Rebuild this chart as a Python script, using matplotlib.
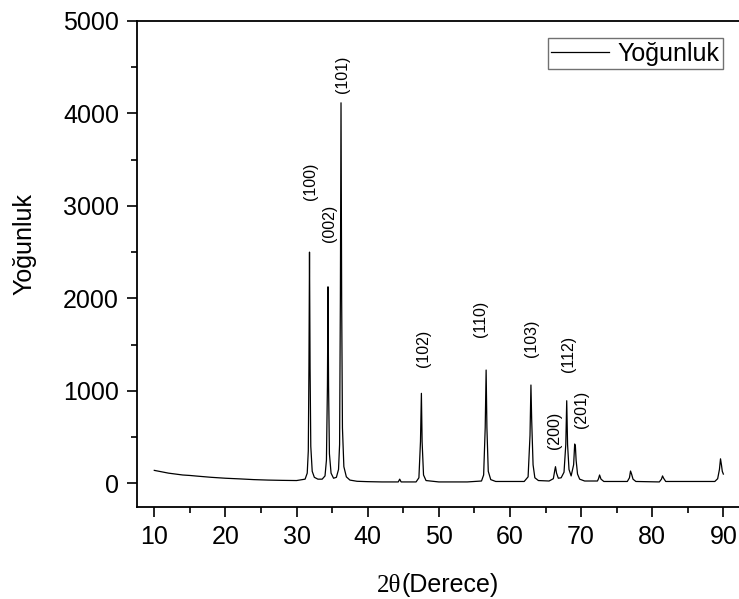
import matplotlib
matplotlib.use("Agg")
from matplotlib import pyplot as plt
from matplotlib.ticker import MultipleLocator
from matplotlib.offsetbox import TextArea, HPacker, AnnotationBbox

plt.rcParams['font.family'] = ['Liberation Sans', 'DejaVu Sans']

# XRD pattern (2theta, intensity)
two_theta = [10, 11, 12, 13, 14, 15, 16, 18, 20, 22, 24, 26, 28, 30,
             31.2, 31.5, 31.65, 31.74, 31.82, 31.9, 32.0, 32.2, 32.5, 33.0, 33.6, 34.0,
             34.2, 34.34, 34.42, 34.5, 34.62, 34.85, 35.2, 35.6, 35.9,
             36.05, 36.16, 36.25, 36.34, 36.45, 36.65, 37.0, 37.5, 38.5, 40, 42,
             44.3, 44.5, 44.7, 46.8,
             47.2, 47.42, 47.55, 47.65, 47.85, 48.2, 50, 54, 56.0,
             56.3, 56.52, 56.65, 56.76, 56.95, 57.3, 58, 62,
             62.55, 62.82, 62.95, 63.05, 63.12, 63.25, 63.5, 64, 65.5, 66.1,
             66.3, 66.4, 66.55, 66.8, 67.2, 67.6,
             67.85, 67.98, 68.1, 68.3, 68.6,
             68.95, 69.1, 69.2, 69.3, 69.5, 69.8, 70.5, 72.3,
             72.45, 72.6, 72.8, 73.2, 76.5,
             76.8, 76.95, 77.1, 77.3, 77.7, 81.0,
             81.3, 81.45, 81.6, 81.9, 88.8,
             89.2, 89.45, 89.6, 89.75, 89.85, 90.0]
intensity = [140, 125, 110, 100, 90, 85, 78, 65, 55, 48, 40, 35, 32, 30,
             45, 110, 350, 1250, 2500, 1250, 400, 130, 65, 45, 45, 80,
             250, 1050, 2125, 1050, 320, 110, 55, 65, 150,
             420, 2000, 4115, 2000, 600, 180, 70, 35, 22, 18, 15,
             15, 45, 15, 15,
             60, 450, 973, 450, 90, 30, 15, 15, 25,
             90, 600, 1225, 600, 130, 40, 20, 20,
             70, 520, 1063, 700, 520, 200, 60, 30, 25, 50,
             140, 180, 110, 55, 60, 120,
             420, 893, 420, 150, 80,
             200, 425, 400, 250, 100, 45, 25, 25,
             50, 90, 45, 20, 20,
             60, 133, 100, 45, 20, 15,
             45, 80, 55, 20, 20,
             50, 150, 265, 190, 130, 100]

# Miller indices and where their labels sit
hkl = ['(100)', '(002)', '(101)', '(102)', '(110)', '(103)', '(200)', '(112)', '(201)']
hkl_x = [31.9, 34.7, 36.5, 47.8, 55.8, 63.0, 66.2, 68.3, 70.0]
hkl_y = [3060, 2610, 4220, 1260, 1585, 1370, 368, 1207, 595]

fig = plt.figure(figsize=(7.39, 5.99), dpi=100)
ax = fig.add_axes([0.1854, 0.1536, 0.8146, 0.8114])

ax.plot(two_theta, intensity, color='black', lw=0.9, label='Yoğunluk')

for lab, x, y in zip(hkl, hkl_x, hkl_y):
    ax.text(x, y, lab, rotation=90, ha='center', va='bottom', fontsize=11.5)

ax.set_xlim(7.57, 92.2)
ax.set_ylim(-256, 5000)
ax.xaxis.set_major_locator(MultipleLocator(10))
ax.xaxis.set_minor_locator(MultipleLocator(5))
ax.yaxis.set_major_locator(MultipleLocator(1000))
ax.yaxis.set_minor_locator(MultipleLocator(500))
ax.tick_params(which='major', direction='out', length=7, width=1.2, labelsize=18, pad=6)
ax.tick_params(which='minor', direction='out', length=4, width=1.2)
ax.spines['right'].set_visible(False)
for s in ['left', 'bottom', 'top']:
    ax.spines[s].set_linewidth(1.3)

leg = ax.legend(loc='upper right', bbox_to_anchor=(0.973, 0.965), fontsize=18,
                frameon=True, fancybox=False, edgecolor='0.3', handlelength=2.3,
                handletextpad=0.32, borderpad=0.15, borderaxespad=0)
leg.get_frame().set_linewidth(1.0)

fig.text(24 / 739, 1 - 244 / 599, 'Yoğunluk', rotation=90, ha='center', va='center', fontsize=18)

# x label: "2θ" in a serif face, "(Derece)" in sans
part1 = TextArea('2θ', textprops=dict(family='Liberation Serif', size=18))
part2 = TextArea('(Derece)', textprops=dict(family='Liberation Sans', size=18))
box = HPacker(children=[part1, part2], align='baseline', pad=0, sep=0)
ab = AnnotationBbox(box, (438 / 739, 1 - 585 / 599), xycoords='figure fraction',
                    frameon=False, box_alignment=(0.5, 0.5))
fig.add_artist(ab)

fig.savefig('out.png', dpi=100)
